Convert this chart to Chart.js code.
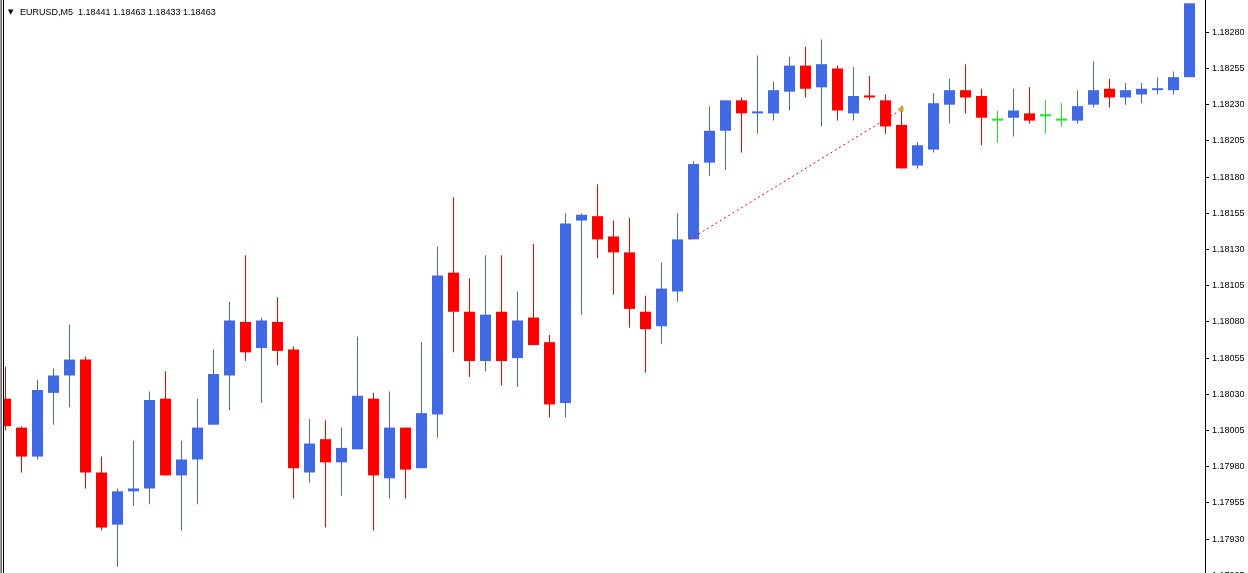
<!DOCTYPE html>
<html>
<head>
<meta charset="utf-8">
<script src="https://cdn.jsdelivr.net/npm/chart.js@4.4.1/dist/chart.umd.min.js"></script>
<style>
  html, body { margin: 0; padding: 0; background: #fff; overflow: hidden; }
  #myChart { display: block; }
</style>
</head>
<body>
<canvas id="myChart" width="1248" height="573"></canvas>
<script>
// EURUSD M5 candles
const symbolTitle = 'EURUSD,M5  1.18441 1.18463 1.18433 1.18463';

const opens = [
    1.18027, 1.18007, 1.17987, 1.18031, 1.18043, 1.18054, 1.17976, 1.17940, 1.17963, 1.17965,
    1.18027, 1.17974, 1.17985, 1.18009, 1.18043, 1.18080, 1.18062, 1.18080, 1.18061, 1.17976,
    1.17999, 1.17983, 1.17992, 1.18027, 1.17972, 1.18007, 1.17979, 1.18016, 1.18114, 1.18087,
    1.18053, 1.18087, 1.18055, 1.18083, 1.18066, 1.18024, 1.18150, 1.18153, 1.18139, 1.18128,
    1.18087, 1.18077, 1.18101, 1.18137, 1.18190, 1.18212, 1.18233, 1.18224, 1.18224, 1.18239,
    1.18257, 1.18242, 1.18255, 1.18224, 1.18236, 1.18233, 1.18216, 1.18188, 1.18199, 1.18230,
    1.18240, 1.18236, 1.18219, 1.18221, 1.18224, 1.18222, 1.18219, 1.18219, 1.18230, 1.18241,
    1.18235, 1.18237, 1.18240, 1.18240, 1.18249
];
const highs = [
    1.18049, 1.18008, 1.18040, 1.18048, 1.18078, 1.18056, 1.17987, 1.17965, 1.17998, 1.18032,
    1.18046, 1.17998, 1.18027, 1.18061, 1.18094, 1.18126, 1.18083, 1.18097, 1.18063, 1.18013,
    1.18012, 1.18007, 1.18070, 1.18031, 1.18032, 1.18007, 1.18066, 1.18132, 1.18166, 1.18110,
    1.18126, 1.18126, 1.18101, 1.18134, 1.18071, 1.18155, 1.18155, 1.18175, 1.18150, 1.18152,
    1.18098, 1.18121, 1.18155, 1.18191, 1.18229, 1.18233, 1.18235, 1.18264, 1.18246, 1.18263,
    1.18270, 1.18275, 1.18257, 1.18256, 1.18250, 1.18237, 1.18229, 1.18204, 1.18238, 1.18248,
    1.18258, 1.18241, 1.18226, 1.18241, 1.18242, 1.18233, 1.18231, 1.18240, 1.18260, 1.18248,
    1.18245, 1.18245, 1.18249, 1.18253, 1.18300
];
const lows = [
    1.18005, 1.17976, 1.17985, 1.18009, 1.18021, 1.17965, 1.17936, 1.17911, 1.17953, 1.17954,
    1.17974, 1.17936, 1.17954, 1.18009, 1.18019, 1.18053, 1.18024, 1.18050, 1.17958, 1.17969,
    1.17938, 1.17960, 1.17992, 1.17936, 1.17958, 1.17958, 1.17979, 1.18000, 1.18059, 1.18042,
    1.18046, 1.18036, 1.18035, 1.18064, 1.18014, 1.18014, 1.18085, 1.18124, 1.18099, 1.18076,
    1.18045, 1.18065, 1.18094, 1.18137, 1.18181, 1.18185, 1.18197, 1.18210, 1.18219, 1.18226,
    1.18235, 1.18215, 1.18219, 1.18219, 1.18233, 1.18210, 1.18186, 1.18186, 1.18197, 1.18217,
    1.18224, 1.18202, 1.18204, 1.18208, 1.18217, 1.18210, 1.18215, 1.18217, 1.18228, 1.18228,
    1.18230, 1.18231, 1.18237, 1.18237, 1.18249
];
const closes = [
    1.18008, 1.17987, 1.18033, 1.18043, 1.18054, 1.17976, 1.17938, 1.17963, 1.17965, 1.18026,
    1.17974, 1.17985, 1.18007, 1.18044, 1.18081, 1.18059, 1.18081, 1.18060, 1.17979, 1.17996,
    1.17983, 1.17993, 1.18029, 1.17974, 1.18007, 1.17978, 1.18017, 1.18112, 1.18087, 1.18053,
    1.18085, 1.18053, 1.18081, 1.18064, 1.18023, 1.18148, 1.18154, 1.18137, 1.18128, 1.18089,
    1.18075, 1.18103, 1.18137, 1.18189, 1.18212, 1.18233, 1.18224, 1.18225, 1.18240, 1.18257,
    1.18241, 1.18258, 1.18226, 1.18236, 1.18235, 1.18215, 1.18186, 1.18202, 1.18231, 1.18240,
    1.18235, 1.18221, 1.18219, 1.18226, 1.18219, 1.18222, 1.18219, 1.18229, 1.18240, 1.18235,
    1.18240, 1.18241, 1.18241, 1.18249, 1.18300
];

// price scale ticks shown on the right
const yTicks = [1.17930, 1.17955, 1.17980, 1.18005, 1.18030, 1.18055, 1.18080, 1.18105,
    1.18130, 1.18155, 1.18180, 1.18205, 1.18230, 1.18255, 1.18280];

// closed trade line (open -> close) and its marker
const tradeX = [42.78, 55.9];
const tradeY = [1.18137, 1.18226];
const markerX = [56.0];
const markerY = [1.18227];

const UP = '#4169e1';
const DOWN = '#ff0000';
const DOJI = '#1ee61e';

function candleColor(i) {
    if (closes[i] > opens[i]) return UP;
    if (closes[i] < opens[i]) return DOWN;
    return DOJI;
}

const colors = opens.map((o, i) => candleColor(i));
const bodies = opens.map((o, i) => ({ x: i, y: [o, closes[i]] }));
const wicks = opens.map((o, i) => ({ x: i, y: [lows[i], highs[i]] }));

const decor = {
    id: 'decor',
    beforeDraw(chart) {
        const ctx = chart.ctx;
        ctx.save();
        ctx.fillStyle = '#ffffff';
        ctx.fillRect(0, 0, chart.width, chart.height);
        ctx.restore();
    },
    afterDraw(chart) {
        const ctx = chart.ctx;
        const y = chart.scales.y;
        ctx.save();
        // window frame on the left
        ctx.fillStyle = '#a0a0a0';
        ctx.fillRect(0, 0, 1, chart.height);
        ctx.fillStyle = '#696969';
        ctx.fillRect(1, 0, 1, chart.height);
        ctx.fillStyle = '#000000';
        ctx.fillRect(3, 0, 1, chart.height);

        // title
        ctx.font = '7px "DejaVu Sans"';
        ctx.textBaseline = 'alphabetic';
        ctx.fillText('▼', 8, 14);
        ctx.font = '9px "Liberation Sans"';
        ctx.fillText(symbolTitle, 20, 15);

        // label cut off at the bottom edge
        const py = Math.round(y.getPixelForValue(1.17905)) + 0.5;
        ctx.strokeStyle = '#000';
        ctx.beginPath();
        ctx.moveTo(y.left, py);
        ctx.lineTo(y.left + 4, py);
        ctx.stroke();
        ctx.textBaseline = 'middle';
        ctx.fillText('1.17905', y.left + 7, py);
        ctx.restore();
    }
};

const ctx = document.getElementById('myChart');
const myChart = new Chart(ctx, {
    type: 'bar',
    data: {
        datasets: [{
            type: 'line',
            data: tradeX.map((x, i) => ({ x: x, y: tradeY[i] })),
            borderColor: '#ff0000',
            borderWidth: 1,
            borderDash: [2, 3],
            pointRadius: 0,
            order: 0
        }, {
            type: 'line',
            data: markerX.map((x, i) => ({ x: x, y: markerY[i] })),
            showLine: false,
            pointStyle: 'triangle',
            rotation: -90,
            pointRadius: 3,
            pointBackgroundColor: '#e0a020',
            pointBorderColor: '#e0a020',
            pointBorderWidth: 1,
            order: 0
        }, {
            data: bodies,
            backgroundColor: colors,
            barThickness: 11,
            minBarLength: 2,
            grouped: false,
            inflateAmount: 0,
            order: 1
        }, {
            data: wicks,
            backgroundColor: colors,
            barThickness: 1,
            grouped: false,
            inflateAmount: 0,
            order: 2
        }]
    },
    options: {
        responsive: false,
        animation: false,
        events: [],
        layout: { autoPadding: false, padding: { left: 4, top: 0, right: 0, bottom: 0 } },
        plugins: {
            legend: { display: false },
            tooltip: { enabled: false },
            title: { display: false }
        },
        scales: {
            x: {
                type: 'linear',
                display: false,
                offset: false,
                min: -0.09375,
                max: 74.96875
            },
            y: {
                position: 'right',
                min: 1.179066,
                max: 1.183023,
                afterBuildTicks(scale) {
                    scale.ticks = yTicks.map(v => ({ value: v }));
                },
                afterFit(scale) {
                    scale.width = 43;
                    // no label overhang padding, plot runs edge to edge
                    scale.paddingTop = 0;
                    scale.paddingBottom = 0;
                },
                grid: {
                    drawOnChartArea: false,
                    drawTicks: true,
                    tickLength: 4,
                    color: '#000'
                },
                border: { display: true, color: '#000', width: 1 },
                ticks: {
                    color: '#000',
                    padding: 3,
                    font: { family: 'Liberation Sans', size: 9 },
                    callback: v => Number(v).toFixed(5)
                }
            }
        }
    },
    plugins: [decor]
});
</script>
</body>
</html>
